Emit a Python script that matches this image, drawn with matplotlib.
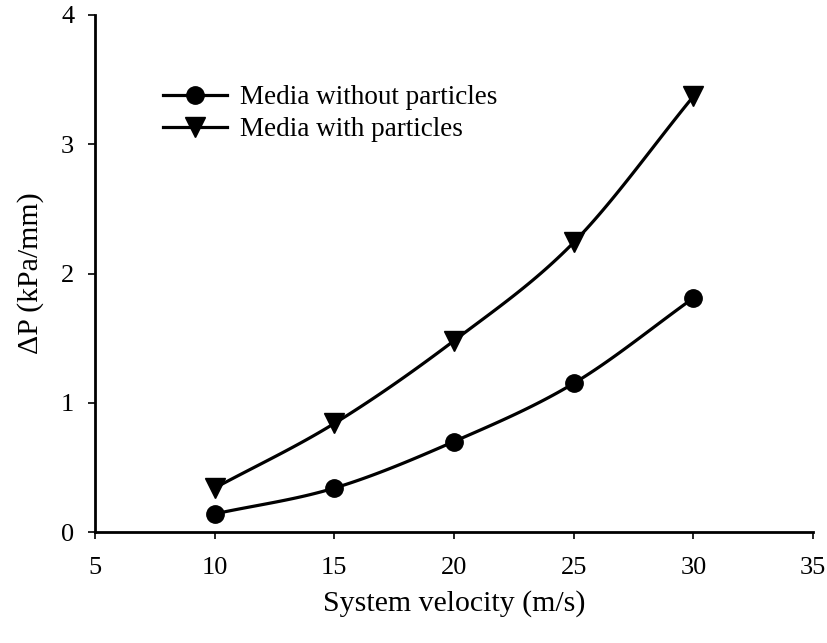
import numpy as np
import matplotlib.pyplot as plt

velocity = [10, 15, 20, 25, 30]
dp_without = [0.14, 0.34, 0.70, 1.15, 1.81]
dp_with = [0.34, 0.84, 1.48, 2.24, 3.37]

plt.rcParams['font.family'] = ['Liberation Serif', 'DejaVu Serif']


def smooth(x, y, n=30):
    # Catmull-Rom curve through the points, for a smoothed line
    x = np.asarray(x, float)
    y = np.asarray(y, float)
    px = np.concatenate([[2 * x[0] - x[1]], x, [2 * x[-1] - x[-2]]])
    py = np.concatenate([[2 * y[0] - y[1]], y, [2 * y[-1] - y[-2]]])
    xs, ys = [], []
    t = np.linspace(0, 1, n)
    for i in range(1, len(px) - 2):
        for p, out in ((px, xs), (py, ys)):
            p0, p1, p2, p3 = p[i - 1], p[i], p[i + 1], p[i + 2]
            out.extend(0.5 * (2 * p1 + (-p0 + p2) * t
                              + (2 * p0 - 5 * p1 + 4 * p2 - p3) * t ** 2
                              + (-p0 + 3 * p1 - 3 * p2 + p3) * t ** 3))
    return xs, ys


fig = plt.figure(figsize=(8.28, 6.43), dpi=100)
ax = fig.add_axes([0.1147, 0.1726, 0.8672, 0.8041])

for y, mk, ms, lab in ((dp_without, 'o', 12.5, 'Media without particles'),
                       (dp_with, 'v', 14, 'Media with particles')):
    sx, sy = smooth(velocity, y)
    ax.plot(sx, sy, color='black', lw=2.3)
    ax.plot(velocity, y, linestyle='none', marker=mk, ms=ms, color='black')
    ax.plot([], [], color='black', lw=2.3, marker=mk, ms=ms, label=lab)

ax.set_xlim(5, 35)
ax.set_ylim(0, 4)
ax.set_xticks(range(5, 40, 5))
ax.set_yticks(range(0, 5))
for s in ('top', 'right'):
    ax.spines[s].set_visible(False)
for s in ('left', 'bottom'):
    ax.spines[s].set_linewidth(2.0)
ax.tick_params(direction='out', length=5, width=1.2, labelsize=19, pad=10)
ax.tick_params(axis='x', pad=13)

ax.set_xlabel('System velocity (m/s)', fontsize=21.5, labelpad=8)
ax.set_ylabel('\u0394P (kPa/mm)', fontsize=21.5, labelpad=12)

ax.legend(loc='upper left', bbox_to_anchor=(0.079, 0.885), frameon=False,
          fontsize=19.5, handlelength=2.37, handletextpad=0.5,
          labelspacing=0.25, borderaxespad=0)

fig.savefig('out.png', dpi=100)
